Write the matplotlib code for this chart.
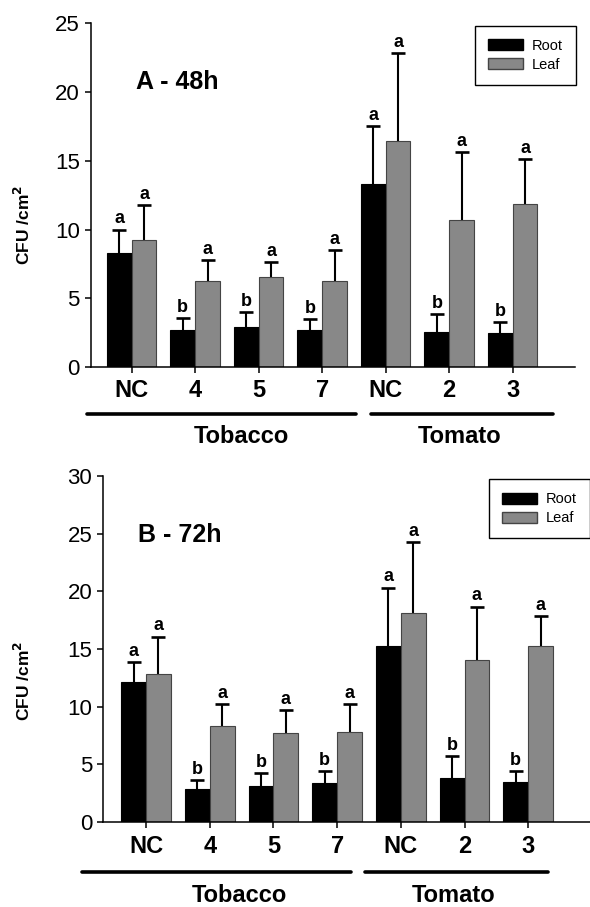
import matplotlib
matplotlib.use("Agg")
import matplotlib.pyplot as plt
from matplotlib.lines import Line2D
from matplotlib.patches import Patch
import numpy as np

plt.rcParams['font.family'] = ['Liberation Sans', 'DejaVu Sans']

categories = ['NC', '4', '5', '7', 'NC', '2', '3']
groups = ['Tobacco', 'Tomato']
series = ['Root', 'Leaf']

# Panel A - 48h
a_root = [8.31, 2.67, 2.90, 2.67, 13.32, 2.57, 2.47]
a_root_se = [1.69, 0.87, 1.12, 0.84, 4.21, 1.26, 0.83]
a_leaf = [9.27, 6.25, 6.56, 6.25, 16.46, 10.70, 11.84]
a_leaf_se = [2.50, 1.55, 1.07, 2.25, 6.37, 4.91, 3.29]
a_root_letters = ['a', 'b', 'b', 'b', 'a', 'b', 'b']
a_leaf_letters = ['a', 'a', 'a', 'a', 'a', 'a', 'a']

# Panel B - 72h
b_root = [12.13, 2.86, 3.09, 3.35, 15.30, 3.81, 3.43]
b_root_se = [1.76, 0.81, 1.15, 1.10, 5.03, 1.88, 1.02]
b_leaf = [12.85, 8.35, 7.71, 7.83, 18.11, 14.06, 15.22]
b_leaf_se = [3.23, 1.90, 1.99, 2.42, 6.15, 4.62, 2.60]
b_root_letters = ['a', 'b', 'b', 'b', 'a', 'b', 'b']
b_leaf_letters = ['a', 'a', 'a', 'a', 'a', 'a', 'a']

ROOT_C = 'black'
LEAF_C = '#888888'

fig = plt.figure(figsize=(5.9, 9.07), dpi=100)


def draw_series(ax, xs, vals, se, letters, color, edge):
    vals = np.array(vals); se = np.array(se)
    w = 0.39
    ax.bar(xs, vals, w, color=color, edgecolor=edge, linewidth=0.8, zorder=2)
    ax.errorbar(xs, vals, yerr=[np.zeros_like(vals), se], fmt='none', ecolor='black',
                elinewidth=1.5, capsize=0, zorder=1)
    ax.plot(xs, vals + se, linestyle='none', marker='_', markersize=9.4,
            markeredgewidth=1.9, color='black', zorder=1)
    for xi, top, t in zip(xs, vals + se, letters):
        ax.annotate(t, (xi, top), xytext=(0, 1.5), textcoords='offset points',
                    ha='center', va='bottom', fontsize=13, fontweight='bold')


def panel(rect, root, root_se, leaf, leaf_se, rl, ll, ymax, title, title_xy,
          xlim, leg_anchor, ylab_y):
    ax = fig.add_axes(rect)
    x = np.arange(len(categories))
    w = 0.39
    draw_series(ax, x - w / 2, root, root_se, rl, ROOT_C, 'black')
    draw_series(ax, x + w / 2, leaf, leaf_se, ll, LEAF_C, '#444444')
    ax.set_xlim(*xlim)
    ax.set_ylim(0, ymax)
    ax.set_yticks(np.arange(0, ymax + 1, 5))
    ax.set_xticks(x)
    ax.set_xticklabels(categories, fontsize=17, fontweight='bold')
    ax.tick_params(axis='y', labelsize=16, length=4, width=1.1, direction='out', pad=4)
    ax.tick_params(axis='x', length=4, width=1.1, direction='out', pad=5)
    for sp in ['top', 'right']:
        ax.spines[sp].set_visible(False)
    for sp in ['left', 'bottom']:
        ax.spines[sp].set_linewidth(1.1)
    ax.text(title_xy[0], title_xy[1], title, fontsize=18, fontweight='bold',
            ha='center', va='center')
    handles = [Patch(facecolor=ROOT_C, edgecolor='black', label=series[0]),
               Patch(facecolor=LEAF_C, edgecolor='#444444', label=series[1])]
    leg = ax.legend(handles=handles, loc='upper right', bbox_to_anchor=leg_anchor,
                    borderaxespad=0, fontsize=10.5, handlelength=2.4, handleheight=0.8,
                    fancybox=False, edgecolor='black', framealpha=1,
                    borderpad=0.9, labelspacing=0.35, handletextpad=0.6)
    leg.get_frame().set_linewidth(1.0)
    fig.text(0.039, ylab_y, 'CFU /cm$^\\mathbf{2}$', rotation=90, fontsize=12.5,
             fontweight='bold', ha='center', va='center')
    return ax


axA = panel([0.1542, 0.5954, 0.8203, 0.3789], a_root, a_root_se, a_leaf, a_leaf_se,
            a_root_letters, a_leaf_letters, 25, 'A - 48h', (0.71, 20.75),
            (-0.641, 6.98), (1.002, 0.993), 0.752)
axB = panel([0.1751, 0.0937, 0.8249, 0.3815], b_root, b_root_se, b_leaf, b_leaf_se,
            b_root_letters, b_leaf_letters, 30, 'B - 72h', (0.53, 24.9),
            (-0.67, 6.97), (1.0, 0.991), 0.249)

# group lines and labels (figure coordinates)
group_specs = [
    (0.5432, [(0.147, 0.603), (0.628, 0.937)], 0.5185, [0.4097, 0.7797]),
    (0.0383, [(0.1385, 0.5944), (0.6186, 0.9293)], 0.0132, [0.405, 0.7695]),
]
for ly, spans, ty, txs in group_specs:
    for (x0, x1), g, tx in zip(spans, groups, txs):
        fig.add_artist(Line2D([x0, x1], [ly, ly], color='black', linewidth=2.6,
                              solid_capstyle='round', transform=fig.transFigure))
        fig.text(tx, ty, g, fontsize=17, fontweight='bold', ha='center', va='center')

fig.savefig('out.png', dpi=100)
